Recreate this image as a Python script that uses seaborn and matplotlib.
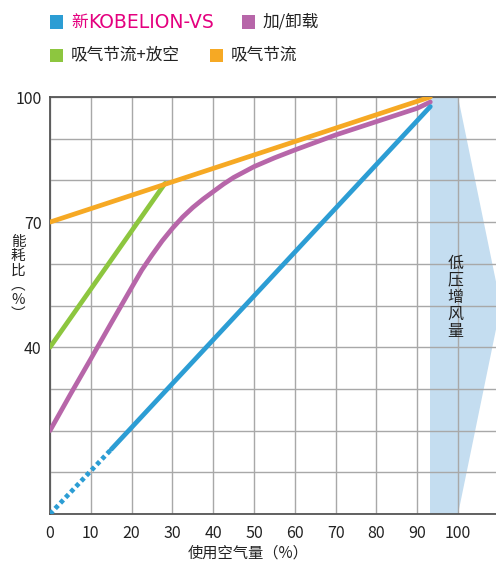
import matplotlib
matplotlib.use('Agg')
import matplotlib.pyplot as plt
import seaborn as sns
from matplotlib.patches import Polygon, Rectangle

# ---- data ----
vs_dot_x = [0, 15]
vs_dot_y = [0, 15.5]
vs_x = [15, 93.2]
vs_y = [15.5, 97.7]

load_x = [0, 5, 10, 15, 20, 22.5, 25, 27.5, 30, 32.5, 35, 37.5, 40, 42.5, 45,
          50, 55, 60, 65, 70, 75, 80, 85, 90, 93.2]
load_y = [20, 28.7, 37.2, 45.8, 54.3, 58.5, 62.1, 65.5, 68.5, 71.2, 73.5, 75.5,
          77.3, 79.1, 80.7, 83.3, 85.4, 87.3, 89.1, 90.9, 92.5, 94.1, 95.7, 97.3, 98.8]

vent_x = [0, 28.2]
vent_y = [40, 79.3]

thr_x = [0, 93.2]
thr_y = [70, 100]

x_ticks = list(range(0, 101, 10))
y_grid = list(range(0, 101, 10))
y_labels = {40: '40', 70: '70', 100: '100'}

band_x = [93.2, 100]
arrow_tip = (110.5, 50)

labels = ['新KOBELION-VS', '加/卸载', '吸气节流+放空', '吸气节流']
c_blue = '#2c9dd4'
c_purple = '#b766a9'
c_green = '#8dc63f'
c_orange = '#f6a924'
c_shade = '#c4ddf0'
c_magenta = '#e4007f'

# ---- style ----
sns.set_style('white')
plt.rcParams['font.family'] = ['Noto Sans CJK SC', 'DejaVu Sans']

W, H = 496, 569
fig = plt.figure(figsize=(W / 100, H / 100), dpi=100)
ax = fig.add_axes([50 / W, 1 - 514 / H, (W - 50) / W, (514 - 97) / H])

lw = 3.4
sns.lineplot(x=thr_x, y=thr_y, ax=ax, color=c_orange, lw=lw, zorder=5)
sns.lineplot(x=vent_x, y=vent_y, ax=ax, color=c_green, lw=lw, zorder=4)
sns.lineplot(x=load_x, y=load_y, ax=ax, color=c_purple, lw=lw, zorder=4)
sns.lineplot(x=vs_x, y=vs_y, ax=ax, color=c_blue, lw=lw, zorder=4)
sns.lineplot(x=vs_dot_x, y=vs_dot_y, ax=ax, color=c_blue, lw=lw, zorder=4)
ax.lines[-1].set_linestyle((0, (0.9, 0.7)))
for ln in ax.lines:
    ln.set_solid_joinstyle('round')

# shaded band + arrow
ax.add_patch(Rectangle((band_x[0], 0), band_x[1] - band_x[0], 100,
                       facecolor=c_shade, edgecolor='none', zorder=0.3))
ax.add_patch(Polygon([(band_x[1], 100), arrow_tip, (band_x[1], 0)],
                     closed=True, facecolor=c_shade, edgecolor='none', zorder=0.3))
ax.text(99.3, 52, '低\n压\n增\n风\n量', ha='center', va='center',
        fontsize=11.5, linespacing=1.0, color='#222222', zorder=6)

ax.set_xlim(0, 109.3)
ax.set_ylim(0, 100)
ax.set_xticks(x_ticks)
ax.set_xticklabels([str(t) for t in x_ticks])
ax.set_yticks(y_grid)
ax.set_yticklabels([y_labels.get(t, '') for t in y_grid])
ax.tick_params(axis='both', length=0, labelsize=11.5, colors='#222222')
ax.tick_params(axis='x', pad=8)
ax.tick_params(axis='y', pad=6)
ax.set_axisbelow(True)
ax.grid(True, color='#a8a8a8', lw=1.0)
ax.set_xlabel('')
ax.set_ylabel('')

for s in ['left', 'bottom', 'top']:
    ax.spines[s].set_color('#555555')
    ax.spines[s].set_linewidth(1.3)
ax.spines['right'].set_visible(False)

# axis titles
fig.text(248 / W, 1 - 553 / H, '使用空气量（%）', ha='center', va='center',
         fontsize=11, color='#222222')
fig.text(18 / W, 1 - 278 / H, '能\n耗\n比\n︵\n%\n︶', ha='center', va='center',
         fontsize=10.5, linespacing=1.05, color='#222222')

# legend (manual)
items = [
    (50, 22, c_blue, None, c_magenta),
    (242, 22, c_purple, labels[1], '#222222'),
    (50, 55, c_green, labels[2], '#222222'),
    (210, 55, c_orange, labels[3], '#222222'),
]
sq = 13
for px, py, col, txt, tcol in items:
    fig.patches.append(Rectangle((px / W, 1 - (py + sq / 2) / H), sq / W, sq / H,
                                 transform=fig.transFigure, facecolor=col,
                                 edgecolor='none'))
    if txt is not None:
        fig.text((px + 21) / W, 1 - py / H, txt, ha='left', va='center',
                 fontsize=12, color=tcol)

# first legend label: CJK part + Latin part in a wider face
lab0 = labels[0]
fig.text(71 / W, 1 - 22 / H, lab0[0], ha='left', va='center',
         fontsize=12, color=c_magenta)
fig.text(88 / W, 1 - 22 / H, lab0[1:], ha='left', va='center',
         fontsize=13.5, color=c_magenta, family=['DejaVu Sans'])

fig.savefig('out.png', dpi=100)
